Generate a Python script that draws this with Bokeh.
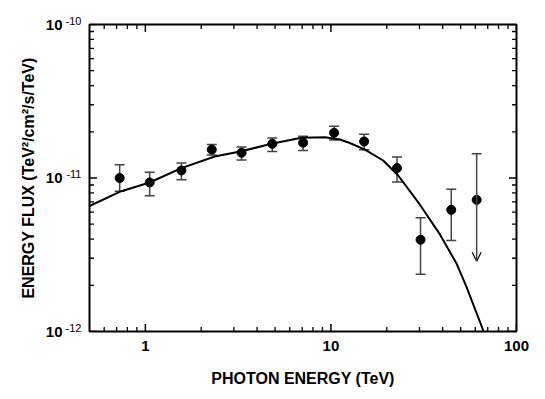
import math
from bokeh.plotting import figure
from bokeh.models import (ColumnDataSource, Whisker, TeeHead, OpenHead, Arrow,
                          LogAxis, FixedTicker)
from bokeh.embed import file_html
from bokeh.resources import INLINE

# ---- data ----
energy = [0.727, 1.055, 1.565, 2.28, 3.30, 4.83, 7.08, 10.4, 15.1, 22.7, 30.4, 44.5]
flux = [1.00e-11, 9.35e-12, 1.12e-11, 1.53e-11, 1.46e-11, 1.67e-11,
        1.70e-11, 1.97e-11, 1.73e-11, 1.16e-11, 3.96e-12, 6.2e-12]
flux_hi = [1.22e-11, 1.09e-11, 1.25e-11, 1.65e-11, 1.59e-11, 1.82e-11,
           1.87e-11, 2.17e-11, 1.93e-11, 1.37e-11, 5.5e-12, 8.45e-12]
flux_lo = [8.2e-12, 7.66e-12, 9.73e-12, 1.41e-11, 1.31e-11, 1.49e-11,
           1.51e-11, 1.77e-11, 1.53e-11, 9.4e-12, 2.36e-12, 3.92e-12]

ul_energy = [61.0]
ul_flux = [7.2e-12]
ul_hi = [1.44e-11]
ul_tip = [2.87e-12]

model_energy = [0.5, 0.727, 1.055, 1.564, 2.365, 3.295, 4.78, 6.94, 9.27,
                11.17, 12.64, 15.23, 19.12, 23.04, 30.17, 38.68, 47.6, 53.9,
                66.2, 68.0]
model_flux = [6.57e-12, 8.13e-12, 9.35e-12, 1.16e-11, 1.38e-11, 1.495e-11,
              1.67e-11, 1.83e-11, 1.845e-11, 1.78e-11, 1.69e-11, 1.53e-11,
              1.30e-11, 1.038e-11, 6.70e-12, 4.29e-12, 2.76e-12, 1.94e-12,
              1.015e-12, 9.2e-13]

x_lo, x_hi = 0.5, 100
y_lo, y_hi = 1e-12, 1e-10
x_major = [1, 10, 100]
x_major_labels = ["1", "10", "100"]
x_minor = [0.6, 0.7, 0.8, 0.9, 2, 3, 4, 5, 6, 7, 8, 9,
           20, 30, 40, 50, 60, 70, 80, 90]
y_major = [1e-12, 1e-11, 1e-10]
y_label_base = ["10", "10", "10"]
y_label_exp = ["-12", "-11", "-10"]
y_minor = [2e-12, 3e-12, 4e-12, 5e-12, 6e-12, 7e-12, 8e-12, 9e-12,
           2e-11, 3e-11, 4e-11, 5e-11, 6e-11, 7e-11, 8e-11, 9e-11]

FONT = "Liberation Sans"

p = figure(width=545, height=399, x_axis_type="log", y_axis_type="log",
           x_range=(x_lo, x_hi), y_range=(y_lo, y_hi),
           output_backend="svg", toolbar_location=None,
           min_border_left=89, min_border_right=29,
           min_border_top=24, min_border_bottom=68)
p.grid.visible = False
p.outline_line_color = "black"
p.outline_line_width = 2
p.background_fill_color = "white"
p.border_fill_color = "white"

def style(ax, labels=True):
    ax.axis_line_color = None
    ax.major_tick_line_color = None
    ax.minor_tick_line_color = None
    ax.major_tick_in = 0
    ax.major_tick_out = 0
    ax.minor_tick_in = 0
    ax.minor_tick_out = 0
    ax.major_label_text_font = FONT
    ax.major_label_text_font_style = "bold"
    ax.major_label_text_font_size = "15px" if labels else "1px"
    ax.major_label_text_color = "black" if labels else None
    ax.axis_label_text_font = FONT
    ax.axis_label_text_font_style = "bold"
    ax.axis_label_text_font_size = "16px"
    ax.axis_label_text_color = "black"

xa = p.xaxis[0]
xa.ticker = FixedTicker(ticks=x_major, minor_ticks=x_minor)
xa.major_label_overrides = {v: s for v, s in zip(x_major, x_major_labels)}
xa.axis_label = "PHOTON ENERGY (TeV)"
style(xa)
xa.major_label_standoff = 9
xa.axis_label_standoff = 16

# left side: inner axis carries the superscript exponents,
# outer axis carries the "10" base and the axis title
ya = p.yaxis[0]
ya.ticker = FixedTicker(ticks=y_major, minor_ticks=y_minor)
ya.major_label_overrides = {v: e + "\n " for v, e in zip(y_major, y_label_exp)}
style(ya)
ya.major_label_text_font_style = "normal"
ya.major_label_text_font_size = "11px"
ya.major_label_text_line_height = 0.6
ya.major_label_standoff = 8

yb = LogAxis(ticker=FixedTicker(ticks=y_major, minor_ticks=y_minor))
yb.major_label_overrides = {v: b for v, b in zip(y_major, y_label_base)}
yb.axis_label = "ENERGY FLUX (TeV\u00b2/cm\u00b2/s/TeV)"
style(yb)
yb.major_label_standoff = 0
yb.axis_label_standoff = 6
p.add_layout(yb, "left")

top = LogAxis(ticker=FixedTicker(ticks=x_major, minor_ticks=x_minor))
style(top, labels=False)
top.major_label_standoff = 0
p.add_layout(top, "above")
right = LogAxis(ticker=FixedTicker(ticks=y_major, minor_ticks=y_minor))
style(right, labels=False)
right.major_label_standoff = 0
p.add_layout(right, "right")

# inward ticks on all four sides (drawn as dashes centred on the frame edge,
# the outer half is clipped by the frame)
for yy in (y_lo, y_hi):
    p.scatter(x_major, [yy] * len(x_major), marker="dash", angle=math.pi / 2,
              size=15, line_color="black", line_width=1.5)
    p.scatter(x_minor, [yy] * len(x_minor), marker="dash", angle=math.pi / 2,
              size=9, line_color="black", line_width=1.3)
for xx in (x_lo, x_hi):
    p.scatter([xx] * len(y_major), y_major, marker="dash",
              size=15, line_color="black", line_width=1.5)
    p.scatter([xx] * len(y_minor), y_minor, marker="dash",
              size=9, line_color="black", line_width=1.3)

# model curve
p.line(model_energy, model_flux, line_color="black", line_width=2)

# data points with error bars
src = ColumnDataSource(dict(x=energy, y=flux, hi=flux_hi, lo=flux_lo))
err_col = "#454545"
p.add_layout(Whisker(source=src, base="x", upper="hi", lower="lo",
                     dimension="height", line_color=err_col, line_width=1.5,
                     upper_head=TeeHead(size=10, line_color=err_col, line_width=1.5),
                     lower_head=TeeHead(size=10, line_color=err_col, line_width=1.5)))
p.scatter("x", "y", source=src, size=9, color="black")

# upper limit
ul_src = ColumnDataSource(dict(x=ul_energy, y=ul_flux, hi=ul_hi, tip=ul_tip))
p.add_layout(Arrow(source=ul_src, x_start="x", y_start="hi", x_end="x", y_end="tip",
                   line_color=err_col, line_width=1.5,
                   start=TeeHead(size=10, line_color=err_col, line_width=1.5),
                   end=OpenHead(size=9, line_color="black", line_width=1.2)))
p.scatter("x", "y", source=ul_src, size=9, color="black")

open("out.html", "w").write(file_html(p, INLINE))
